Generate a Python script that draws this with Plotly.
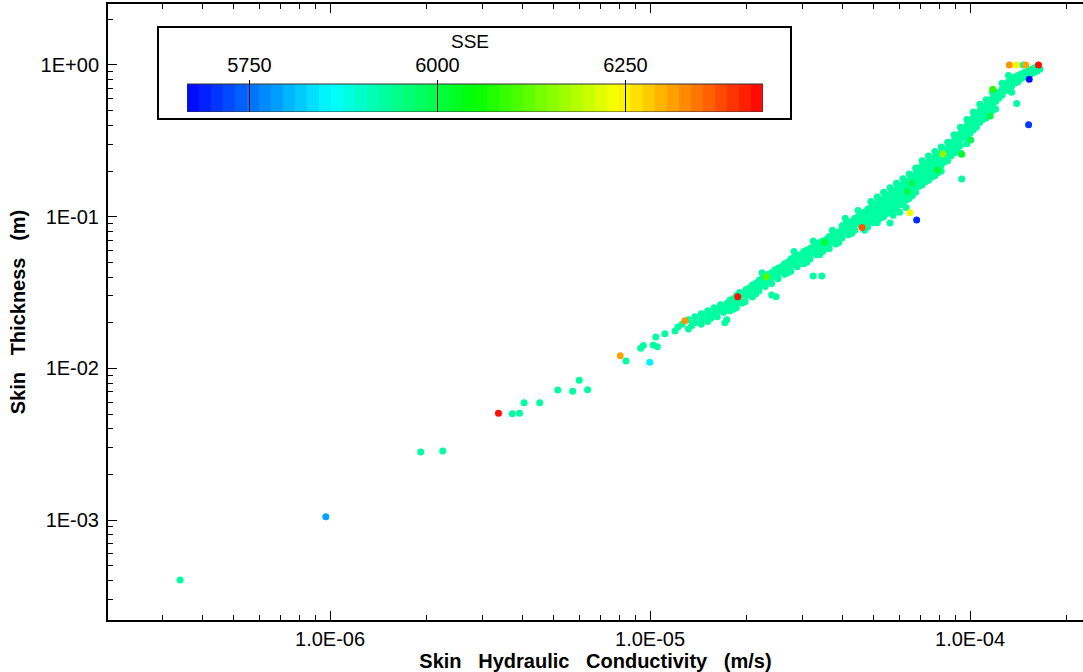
import numpy as np
import plotly.graph_objects as go
from plotly.colors import sample_colorscale

# ---------------- data ----------------
# Colour scale range of SSE shown in the legend bar
SSE_MIN, SSE_MAX = 5667, 6433
N_BANDS = 48
cbar_tickvals = [5750, 6000, 6250]

# Bulk of the parameter sets (all in the same teal SSE band)
teal_level = 5930
teal_k = [
    3.40e-7, 1.92e-6, 2.25e-6, 3.71e-6, 3.91e-6, 4.04e-6, 4.52e-6, 5.15e-6, 5.73e-6, 6.01e-6, 6.38e-6,
    8.41e-6, 9.35e-6, 9.53e-6, 1.023e-5, 1.042e-5, 1.054e-5, 1.112e-5, 1.197e-5, 1.223e-5,
    1.259e-5, 1.318e-5, 1.318e-5, 1.349e-5, 1.380e-5, 1.380e-5,
    1.445e-5, 1.445e-5, 1.445e-5, 1.479e-5, 1.514e-5, 1.514e-5, 1.514e-5, 1.549e-5,
    1.585e-5, 1.585e-5, 1.622e-5, 1.622e-5, 1.660e-5, 1.660e-5, 1.698e-5, 1.713e-5, 1.738e-5,
    1.738e-5, 1.738e-5, 1.778e-5, 1.778e-5, 1.778e-5, 1.820e-5, 1.820e-5, 1.862e-5, 1.862e-5, 1.862e-5,
    1.936e-5, 1.982e-5, 1.905e-5, 1.905e-5, 1.950e-5, 1.995e-5, 1.995e-5, 2.042e-5, 2.042e-5,
    2.089e-5, 2.089e-5, 2.089e-5, 2.138e-5, 2.138e-5, 2.188e-5, 2.188e-5, 2.188e-5, 2.239e-5, 2.239e-5,
    2.291e-5, 2.291e-5, 2.291e-5, 2.344e-5, 2.344e-5, 2.399e-5, 2.399e-5, 2.399e-5, 2.399e-5, 2.477e-5, 2.455e-5, 2.455e-5,
    2.512e-5, 2.512e-5, 2.512e-5, 2.570e-5, 2.570e-5, 2.630e-5, 2.630e-5, 2.630e-5, 2.692e-5, 2.692e-5,
    2.754e-5, 2.754e-5, 2.754e-5, 2.818e-5, 2.818e-5, 2.884e-5, 2.884e-5, 2.884e-5, 2.951e-5, 2.951e-5,
    3.020e-5, 3.020e-5, 3.020e-5, 3.090e-5, 3.090e-5, 3.162e-5, 3.162e-5, 3.162e-5, 3.236e-5, 3.236e-5,
    3.236e-5, 3.443e-5, 3.311e-5, 3.311e-5, 3.311e-5, 3.388e-5, 3.388e-5,
    3.467e-5, 3.467e-5, 3.467e-5, 3.548e-5, 3.548e-5, 3.631e-5, 3.631e-5, 3.631e-5, 3.715e-5, 3.715e-5,
    3.802e-5, 3.802e-5, 3.802e-5, 3.890e-5, 3.890e-5, 3.981e-5, 3.981e-5, 3.981e-5, 4.074e-5, 4.074e-5,
    4.169e-5, 4.169e-5, 4.169e-5, 4.266e-5, 4.266e-5, 4.365e-5, 4.365e-5, 4.365e-5, 4.467e-5, 4.467e-5,
    4.571e-5, 4.571e-5, 4.571e-5, 4.677e-5, 4.677e-5, 4.677e-5, 4.786e-5, 4.786e-5, 4.786e-5, 4.786e-5, 4.898e-5, 4.898e-5,
    5.012e-5, 5.012e-5, 5.012e-5, 5.012e-5, 5.129e-5, 5.129e-5, 5.129e-5, 5.248e-5, 5.248e-5, 5.248e-5, 5.248e-5,
    5.370e-5, 5.370e-5, 5.370e-5,
    5.495e-5, 5.495e-5, 5.495e-5, 5.495e-5, 5.623e-5, 5.623e-5, 5.623e-5, 5.623e-5, 5.754e-5, 5.754e-5, 5.754e-5, 5.754e-5,
    5.888e-5, 5.888e-5, 5.888e-5,
    6.026e-5, 6.026e-5, 6.026e-5, 6.026e-5, 6.166e-5, 6.166e-5, 6.166e-5, 6.310e-5, 6.310e-5, 6.310e-5, 6.310e-5,
    6.457e-5, 6.457e-5, 6.457e-5,
    6.607e-5, 6.607e-5, 6.607e-5, 6.607e-5, 6.761e-5, 6.761e-5, 6.761e-5, 6.918e-5, 6.918e-5, 6.918e-5, 6.918e-5,
    7.079e-5, 7.079e-5, 7.079e-5,
    7.244e-5, 7.244e-5, 7.244e-5, 7.244e-5, 7.413e-5, 7.413e-5, 7.413e-5, 7.586e-5, 7.586e-5, 7.586e-5, 7.586e-5,
    7.762e-5, 7.762e-5, 7.762e-5,
    7.943e-5, 7.943e-5, 7.943e-5, 7.943e-5, 8.128e-5, 8.128e-5, 8.128e-5, 8.318e-5, 8.318e-5, 8.318e-5, 8.511e-5, 8.511e-5,
    8.710e-5, 8.710e-5, 8.710e-5, 8.913e-5, 8.913e-5, 9.120e-5, 9.120e-5, 9.120e-5, 9.333e-5, 9.333e-5, 9.333e-5, 9.419e-5,
    9.550e-5, 9.550e-5, 9.772e-5, 9.772e-5, 9.772e-5, 1.000e-4, 1.000e-4, 1.023e-4, 1.023e-4, 1.023e-4,
    1.047e-4, 1.047e-4, 1.072e-4, 1.072e-4, 1.096e-4, 1.096e-4, 1.096e-4, 1.122e-4, 1.122e-4,
    1.148e-4, 1.148e-4, 1.175e-4, 1.175e-4, 1.175e-4, 1.202e-4, 1.202e-4, 1.230e-4, 1.230e-4,
    1.259e-4, 1.259e-4, 1.288e-4, 1.288e-4, 1.318e-4, 1.318e-4, 1.349e-4, 1.349e-4, 1.380e-4, 1.380e-4, 1.399e-4,
    1.413e-4, 1.413e-4, 1.445e-4, 1.445e-4, 1.479e-4, 1.479e-4, 1.514e-4, 1.514e-4, 1.549e-4, 1.549e-4,
    1.585e-4, 1.585e-4, 1.622e-4, 1.622e-4, 1.465e-4, 1.654e-4,
    # edge / scatter points of the band
    1.820e-5, 2.138e-5, 2.239e-5, 2.692e-5, 2.818e-5, 3.090e-5, 3.236e-5, 3.388e-5,
    3.548e-5, 3.715e-5, 3.890e-5, 4.074e-5, 4.266e-5, 4.467e-5, 4.677e-5,
    4.898e-5, 4.898e-5, 5.129e-5, 5.129e-5, 5.370e-5, 5.370e-5, 5.623e-5, 5.623e-5,
    5.888e-5, 5.888e-5, 6.166e-5, 6.166e-5, 6.457e-5, 6.457e-5, 6.761e-5, 6.761e-5,
    5.754e-5, 6.026e-5, 6.310e-5,
    7.079e-5, 7.079e-5, 7.413e-5, 7.413e-5, 7.762e-5, 7.762e-5, 8.128e-5, 8.128e-5,
    8.511e-5, 8.511e-5, 8.913e-5, 8.913e-5, 9.333e-5, 9.333e-5, 9.772e-5, 9.772e-5,
    1.000e-4, 1.023e-4, 1.047e-4, 1.072e-4, 1.072e-4, 1.122e-4, 1.122e-4,
    1.175e-4, 1.202e-4, 1.259e-4, 1.318e-4, 1.349e-4,
]
teal_t = [
    4.02e-4, 2.81e-3, 2.85e-3, 5.02e-3, 5.05e-3, 5.93e-3, 5.93e-3, 7.20e-3, 7.06e-3, 8.34e-3, 7.23e-3,
    1.12e-2, 1.355e-2, 1.413e-2, 1.426e-2, 1.61e-2, 1.39e-2, 1.69e-2, 1.762e-2, 1.875e-2,
    0.0195, 0.0209, 0.0182, 0.0191, 0.0219, 0.0200,
    0.0229, 0.0209, 0.0195, 0.0219, 0.0240, 0.0224, 0.0204, 0.0214,
    0.0251, 0.0229, 0.0240, 0.0219, 0.0263, 0.0245, 0.0234, 0.0200, 0.0209,
    0.0269, 0.0251, 0.0282, 0.0257, 0.0240, 0.0288, 0.0269, 0.0302, 0.0275, 0.0251,
    0.0269, 0.0275, 0.0316, 0.0288, 0.0309, 0.0331, 0.0302, 0.0339, 0.0316,
    0.0355, 0.0324, 0.0295, 0.0363, 0.0339, 0.0380, 0.0347, 0.0324, 0.0389, 0.0363,
    0.0407, 0.0372, 0.0347, 0.0417, 0.0389, 0.0427, 0.0398, 0.0363, 0.0304, 0.0296, 0.0447, 0.0407,
    0.0457, 0.0427, 0.0389, 0.0468, 0.0437, 0.0490, 0.0447, 0.0417, 0.0501, 0.0468,
    0.0525, 0.0479, 0.0437, 0.0537, 0.0490, 0.0550, 0.0513, 0.0468, 0.0562, 0.0525,
    0.0589, 0.0537, 0.0490, 0.0603, 0.0550, 0.0617, 0.0575, 0.0525, 0.0631, 0.0589,
    0.0407, 0.0407, 0.0661, 0.0603, 0.0562, 0.0676, 0.0617,
    0.0692, 0.0646, 0.0589, 0.0708, 0.0661, 0.0741, 0.0676, 0.0617, 0.0741, 0.0692,
    0.0776, 0.0724, 0.0661, 0.0794, 0.0741, 0.0871, 0.0794, 0.0724, 0.0891, 0.0813,
    0.0912, 0.0832, 0.0759, 0.0933, 0.0851, 0.0977, 0.0891, 0.0813, 0.100, 0.0912,
    0.105, 0.0955, 0.0871, 0.107, 0.0977, 0.0891, 0.112, 0.102, 0.0933, 0.0851, 0.115, 0.105,
    0.120, 0.110, 0.100, 0.0912, 0.123, 0.112, 0.102, 0.129, 0.117, 0.107, 0.0977,
    0.132, 0.120, 0.110,
    0.138, 0.126, 0.115, 0.105, 0.141, 0.129, 0.117, 0.0908, 0.148, 0.135, 0.123, 0.112,
    0.151, 0.138, 0.126,
    0.158, 0.145, 0.132, 0.120, 0.162, 0.148, 0.135, 0.170, 0.155, 0.141, 0.129,
    0.174, 0.158, 0.145,
    0.182, 0.166, 0.151, 0.138, 0.191, 0.174, 0.158, 0.209, 0.191, 0.174, 0.158,
    0.214, 0.195, 0.178,
    0.224, 0.204, 0.186, 0.170, 0.229, 0.209, 0.191, 0.240, 0.219, 0.200, 0.182,
    0.245, 0.224, 0.204,
    0.257, 0.234, 0.214, 0.195, 0.263, 0.240, 0.219, 0.275, 0.251, 0.229, 0.282, 0.257,
    0.302, 0.275, 0.251, 0.316, 0.288, 0.339, 0.309, 0.282, 0.355, 0.324, 0.295, 0.177,
    0.372, 0.339, 0.398, 0.363, 0.331, 0.427, 0.389, 0.447, 0.407, 0.372,
    0.468, 0.427, 0.501, 0.457, 0.525, 0.479, 0.437, 0.537, 0.490,
    0.575, 0.525, 0.603, 0.550, 0.501, 0.631, 0.575, 0.661, 0.603,
    0.692, 0.631, 0.741, 0.676, 0.776, 0.708, 0.794, 0.724, 0.832, 0.759, 0.558,
    0.851, 0.776, 0.871, 0.813, 0.891, 0.832, 0.912, 0.851, 0.933, 0.871,
    0.955, 0.891, 0.977, 0.912, 1.0, 0.942,
    # edge / scatter points of the band
    0.0245, 0.0309, 0.0427, 0.0427, 0.0589, 0.0501, 0.0692, 0.0562,
    0.0617, 0.0813, 0.0676, 0.0977, 0.0776, 0.110, 0.0813,
    0.126, 0.0933, 0.135, 0.0912, 0.145, 0.100, 0.155, 0.107,
    0.166, 0.115, 0.178, 0.123, 0.191, 0.132, 0.209, 0.145,
    0.102, 0.107, 0.115,
    0.234, 0.162, 0.251, 0.174, 0.269, 0.186, 0.288, 0.200,
    0.309, 0.234, 0.347, 0.263, 0.389, 0.263, 0.437, 0.302,
    0.355, 0.490, 0.389, 0.550, 0.417, 0.589, 0.447,
    0.661, 0.513, 0.759, 0.851, 0.661,
]

# Parameter sets with distinct SSE colours (drawn on top)
col_k = [9.7e-7, 3.36e-6, 8.07e-6, 9.98e-6, 1.285e-5, 1.879e-5, 2.307e-5, 3.51e-5, 4.60e-5,
         6.49e-5, 6.81e-5, 6.37e-5, 6.57e-5, 7.91e-5, 8.22e-5, 9.42e-5, 1.005e-4, 1.156e-4,
         1.178e-4, 1.327e-4, 1.393e-4, 1.493e-4, 1.637e-4, 1.531e-4, 1.524e-4]
col_t = [1.05e-3, 5.05e-3, 1.212e-2, 1.096e-2, 0.0206, 0.0297, 0.0402, 0.0679, 0.0849,
         0.106, 0.0950, 0.1466, 0.166, 0.203, 0.259, 0.258, 0.320, 0.461,
         0.692, 1.0, 1.0, 1.0, 1.0, 0.805, 0.403]
col_sse = [5790, 6420, 6310, 5850, 6320, 6420, 6110, 6010, 6370,
           6230, 5700, 5995, 5990, 6010, 6160, 6020, 5990, 5995,
           6080, 6320, 6250, 6310, 6420, 5680, 5710]

x_tickvals = [1e-6, 1e-5, 1e-4]
x_ticktext = ["1.0E-06", "1.0E-05", "1.0E-04"]
y_tickvals = [1e-3, 1e-2, 1e-1, 1.0]
y_ticktext = ["1E-03", "1E-02", "1E-01", "1E+00"]

# ---------------- styling ----------------
RAINBOW = [[0.0, "rgb(0,0,255)"], [0.25, "rgb(0,255,255)"], [0.5, "rgb(0,255,0)"],
           [0.75, "rgb(255,255,0)"], [1.0, "rgb(255,0,0)"]]
FONT = "Liberation Sans, Arial, sans-serif"
W, H = 1083, 672
ML, MR, MT, MB = 108, 0, 4, 52
GAP = "\u00a0\u00a0 "


def px_x(p):
    return (p - ML) / (W - ML - MR)


def px_y(p):
    return (H - MB - p) / (H - MT - MB)


teal_color = sample_colorscale(RAINBOW, [(teal_level - SSE_MIN) / (SSE_MAX - SSE_MIN)])[0]

band_w = (SSE_MAX - SSE_MIN) / N_BANDS
band_centers = SSE_MIN + band_w * (np.arange(N_BANDS) + 0.5)

fig = go.Figure()
fig.add_trace(go.Scatter(
    x=teal_k, y=teal_t, mode="markers",
    marker=dict(size=7, color=teal_color, line=dict(width=0)),
    hoverinfo="x+y", showlegend=False))
fig.add_trace(go.Scatter(
    x=col_k, y=col_t, mode="markers",
    marker=dict(size=7, color=col_sse, colorscale=RAINBOW, cmin=SSE_MIN, cmax=SSE_MAX,
                showscale=False, line=dict(width=0)),
    showlegend=False))

# Legend colour bar drawn as a banded heatmap on an inset axis
fig.add_trace(go.Heatmap(
    x=band_centers, y=[0], z=[band_centers], colorscale=RAINBOW,
    zmin=SSE_MIN, zmax=SSE_MAX, showscale=False, xaxis="x2", yaxis="y2",
    hoverinfo="skip"))

axis_common = dict(
    type="log", showline=True, linecolor="black", linewidth=2,
    ticks="inside", ticklen=9, tickwidth=1, tickcolor="black",
    showgrid=False, zeroline=False, tickmode="array",
    tickfont=dict(family=FONT, size=20, color="black"),
    minor=dict(ticks="inside", ticklen=5, tickwidth=1, tickcolor="black",
               dtick="D1", showgrid=False),
)

fig.update_layout(
    width=W, height=H,
    margin=dict(l=ML, r=MR, t=MT, b=MB),
    paper_bgcolor="white", plot_bgcolor="white",
    xaxis=dict(**axis_common, range=[-6.694, -3.647], mirror="ticks",
               tickvals=x_tickvals, ticktext=x_ticktext, ticklabelstandoff=0,
               title=dict(text="Skin" + GAP + "Hydraulic" + GAP + "Conductivity" + GAP + "(m/s)",
                          font=dict(family=FONT, size=20, color="black", weight="bold"),
                          standoff=2)),
    yaxis=dict(**axis_common, range=[-3.659, 0.402], mirror=False,
               tickvals=y_tickvals, ticktext=y_ticktext, ticklabelstandoff=3,
               title=dict(text="Skin" + GAP + "Thickness" + GAP + "(m)",
                          font=dict(family=FONT, size=20, color="black", weight="bold"),
                          standoff=10)),
    xaxis2=dict(domain=[px_x(187), px_x(763)], anchor="y2", side="top",
                range=[SSE_MIN, SSE_MAX], tickmode="array", tickvals=cbar_tickvals,
                ticks="inside", ticklen=32, tickwidth=1, tickcolor="black",
                showline=False, showgrid=False, zeroline=False, ticklabelstandoff=3,
                tickfont=dict(family=FONT, size=20, color="black"), fixedrange=True),
    yaxis2=dict(domain=[px_y(112), px_y(80)], anchor="x2", range=[-0.5, 0.643],
                visible=False, fixedrange=True),
    shapes=[
        dict(type="rect", xref="paper", yref="paper", x0=px_x(158), x1=px_x(791),
             y0=px_y(119), y1=px_y(27), line=dict(color="black", width=2),
             fillcolor="white", layer="below"),
        dict(type="rect", xref="x2", yref="y2", x0=SSE_MIN, x1=SSE_MAX, y0=-0.5, y1=0.5,
             line=dict(color="#333333", width=1), layer="above"),
    ],
    annotations=[
        dict(text="SSE", xref="paper", yref="paper", x=px_x(470), y=px_y(42),
             xanchor="center", yanchor="middle", showarrow=False,
             font=dict(family=FONT, size=19, color="black")),
    ],
)

fig.write_html("out.html",
               config={"displayModeBar": False},
               post_script="document.body.style.margin='0px';document.body.style.overflow='hidden';")
